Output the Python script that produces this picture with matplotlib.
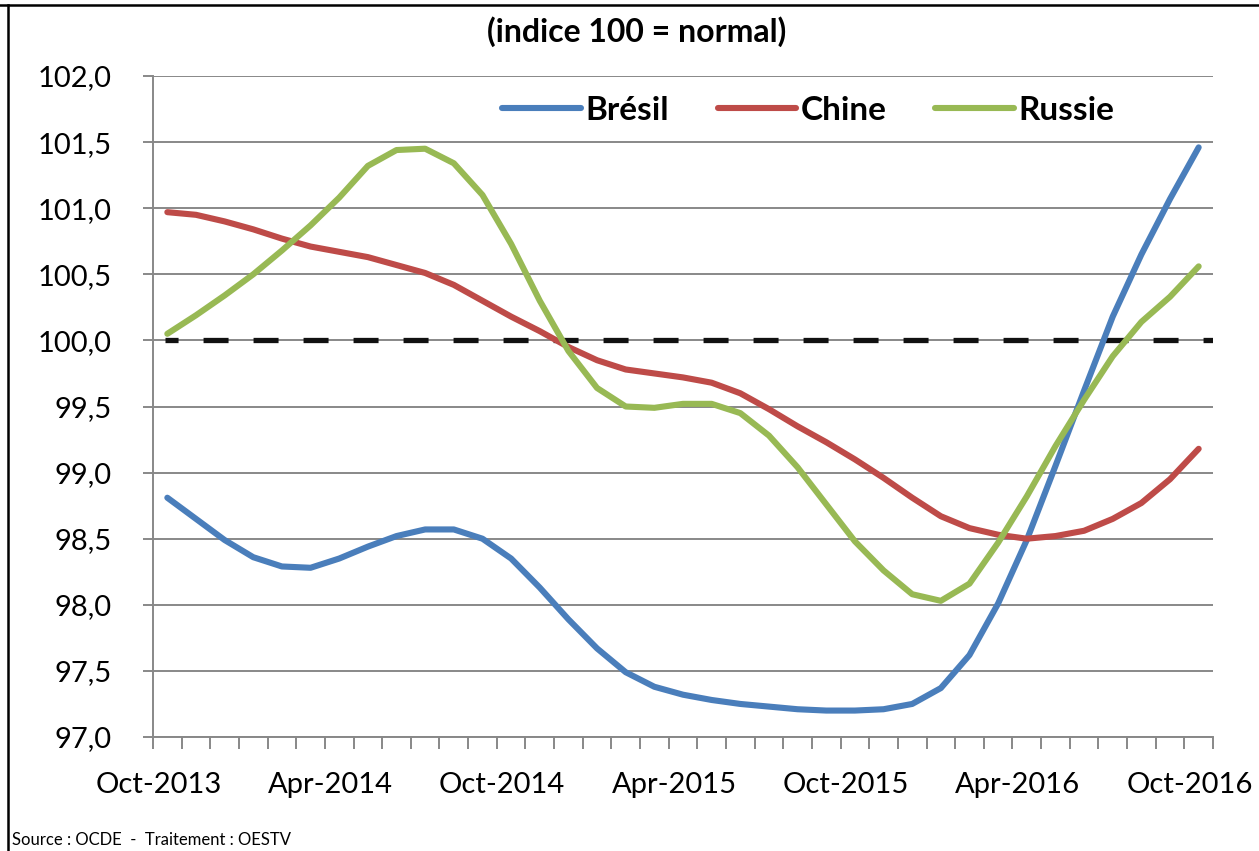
import matplotlib
matplotlib.use("Agg")
import matplotlib.pyplot as plt
from matplotlib.transforms import ScaledTranslation
from matplotlib.lines import Line2D

plt.rcParams['font.family'] = ['Lato', 'DejaVu Sans']
plt.rcParams['lines.scale_dashes'] = False

# ---- data ----
months = ['Oct', 'Nov', 'Dec', 'Jan', 'Feb', 'Mar', 'Apr', 'May', 'Jun', 'Jul', 'Aug', 'Sep']
start_year = 2013
n_points = 37
categories = []
for k in range(n_points):
    m = months[k % 12]
    y = start_year + (k + 9) // 12
    categories.append(f"{m}-{y}")

bresil = [98.81, 98.65, 98.49, 98.36, 98.29, 98.28, 98.35, 98.44, 98.52, 98.57,
          98.57, 98.50, 98.35, 98.13, 97.89, 97.67, 97.49, 97.38, 97.32, 97.28,
          97.25, 97.23, 97.21, 97.20, 97.20, 97.21, 97.25, 97.37, 97.62, 98.01,
          98.49, 99.05, 99.62, 100.18, 100.65, 101.07, 101.46]
chine = [100.97, 100.95, 100.90, 100.84, 100.77, 100.71, 100.67, 100.63, 100.57, 100.51,
         100.42, 100.30, 100.18, 100.07, 99.95, 99.85, 99.78, 99.75, 99.72, 99.68,
         99.60, 99.48, 99.35, 99.23, 99.10, 98.96, 98.81, 98.67, 98.58, 98.53,
         98.50, 98.52, 98.56, 98.65, 98.77, 98.95, 99.18]
russie = [100.05, 100.19, 100.34, 100.50, 100.68, 100.87, 101.08, 101.32, 101.44, 101.45,
          101.34, 101.10, 100.73, 100.30, 99.92, 99.64, 99.50, 99.49, 99.52, 99.52,
          99.45, 99.28, 99.04, 98.76, 98.48, 98.26, 98.08, 98.03, 98.16, 98.47,
          98.82, 99.20, 99.55, 99.88, 100.14, 100.33, 100.56]
normal_level = 100.0

series_names = ['Brésil', 'Chine', 'Russie']
series_colors = ['#4A7EBB', '#BE4B48', '#98B954']
y_ticks = [97.0, 97.5, 98.0, 98.5, 99.0, 99.5, 100.0, 100.5, 101.0, 101.5, 102.0]
label_every = 6

# ---- figure ----
W, H = 1259, 851
fig = plt.figure(figsize=(W / 100, H / 100), dpi=100)
ax = fig.add_axes([153 / W, 1 - 737 / H, (1213 - 153) / W, (737 - 76) / H])

x = list(range(n_points))
grid_col = '#888888'

ax.set_ylim(y_ticks[0], y_ticks[-1])
ax.set_xlim(-0.5, n_points - 0.5)
ax.set_yticks(y_ticks)
ax.set_yticklabels([f"{v:.1f}".replace('.', ',') for v in y_ticks])
ax.yaxis.grid(True, color=grid_col, linewidth=1.4, zorder=0)
ax.set_axisbelow(True)

# dashed normal line
ax.axhline(normal_level, xmin=0.011, xmax=1.0, color='#111111', linewidth=3.8,
           linestyle=(8.6, (18, 18)), dash_capstyle='butt', zorder=1)

for vals, name, col in zip([bresil, chine, russie], series_names, series_colors):
    ax.plot(x, vals, color=col, linewidth=4.4, label=name, solid_capstyle='round',
            solid_joinstyle='round', zorder=3)

for s in ['top', 'right']:
    ax.spines[s].set_visible(False)
for s in ['left', 'bottom']:
    ax.spines[s].set_color(grid_col)
    ax.spines[s].set_linewidth(1.4)

# x ticks
ax.set_xticks(x[::label_every])
ax.set_xticklabels(categories[::label_every])
ax.set_xticks([i - 0.5 for i in range(n_points + 1)], minor=True)
ax.tick_params(axis='x', which='major', length=0, pad=25, labelsize=21, colors='black')
ax.tick_params(axis='x', which='minor', length=8.6, width=1.4, color=grid_col, direction='out')
ax.tick_params(axis='y', which='major', length=7.5, width=1.4, color=grid_col, pad=22,
               labelsize=21, labelcolor='black')
offset = ScaledTranslation(-9 / 100, 0, fig.dpi_scale_trans)
for lab in ax.get_xticklabels():
    lab.set_transform(lab.get_transform() + offset)

# legend
handles = [Line2D([0], [0], color=c, linewidth=4.4, solid_capstyle='round') for c in series_colors]
leg = fig.legend(handles, series_names, loc='center',
                 bbox_to_anchor=((500 + 1117) / 2 / W, 1 - 110 / H),
                 ncol=3, frameon=False, handlelength=2.35, handletextpad=0.15,
                 columnspacing=1.45, borderpad=0, prop={'weight': 'bold', 'size': 24})

# title & source
fig.text(637 / W, 1 - 32 / H, "(indice 100 = normal)", ha='center', va='center',
         fontsize=23, fontweight='bold')
fig.text(12 / W, 1 - 840 / H, "Source : OCDE  -  Traitement : OESTV", ha='left',
         va='center', fontsize=12)

# frame
fig.add_artist(Line2D([0, 1], [1 - 5 / H, 1 - 5 / H], transform=fig.transFigure,
                      color='black', linewidth=1.8))
fig.add_artist(Line2D([8 / W, 8 / W], [0, 1 - 5 / H], transform=fig.transFigure,
                      color='black', linewidth=1.8))

fig.savefig('out.png', dpi=100)
